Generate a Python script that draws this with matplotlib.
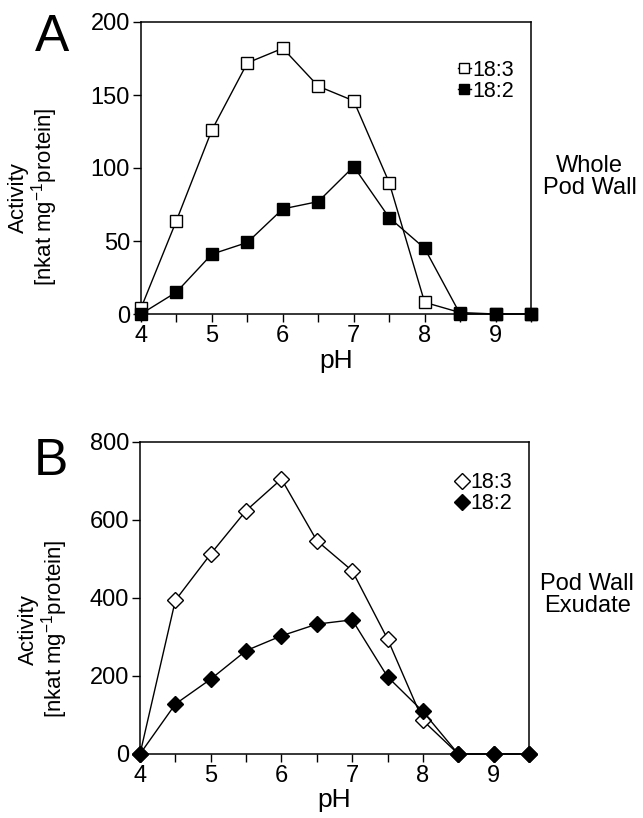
import numpy as np
import matplotlib
matplotlib.use("Agg")
import matplotlib.pyplot as plt

plt.rcParams['font.family'] = ['Liberation Sans', 'DejaVu Sans']
plt.rcParams['mathtext.fontset'] = 'custom'
plt.rcParams['mathtext.rm'] = 'Liberation Sans'
plt.rcParams['mathtext.default'] = 'regular'

# pH values
ph = [4, 4.5, 5, 5.5, 6, 6.5, 7, 7.5, 8, 8.5, 9, 9.5]

# Panel A: whole pod wall
a_183 = [4, 64, 126, 172, 182, 156, 146, 90, 8, 1, 0, 0]
a_182 = [0, 15, 41, 49, 72, 77, 101, 66, 45, 0, 0, 0]

# Panel B: pod wall exudate
b_183 = [0, 394, 513, 624, 705, 547, 470, 295, 86, 0, 0, 0]
b_182 = [0, 128, 192, 265, 303, 333, 344, 198, 109, 0, 0, 0]

fig = plt.figure(figsize=(6.43, 8.18), dpi=100)

def panel(ax, y3, y2, marker, ms, ymax, ystep, letter, side, letter_y, ylab_x, side_y, leg_anchor):
    ax.plot(ph, y3, '-', color='black', lw=1.0, marker=marker, ms=ms,
            mfc='white', mec='black', mew=1.0, label='18:3', zorder=3, clip_on=False)
    ax.plot(ph, y2, '-', color='black', lw=1.0, marker=marker, ms=ms,
            mfc='black', mec='black', mew=1.0, label='18:2', zorder=4, clip_on=False)
    ax.set_xlim(4, 9.5)
    ax.set_ylim(0, ymax)
    ax.set_xticks(np.arange(4, 9.51, 0.5))
    ax.set_xticklabels(['4', '', '5', '', '6', '', '7', '', '8', '', '9', ''])
    ax.set_yticks(np.arange(0, ymax + 1, ystep))
    ax.tick_params(direction='out', length=6, width=1, labelsize=17, pad=2)
    for s in ax.spines.values():
        s.set_linewidth(1.1)
    ax.set_xlabel('pH', fontsize=19, labelpad=1)
    ax.set_ylabel('Activity\n[nkat mg$^{-1}$protein]', fontsize=16, linespacing=1.0)
    ax.yaxis.set_label_coords(ylab_x, 0.40)
    ax.text(-0.272, letter_y, letter, transform=ax.transAxes, fontsize=37, va='top', ha='left')
    ax.text(1.15, side_y, side, transform=ax.transAxes, fontsize=17, ha='center', va='center',
            linespacing=1.0)
    ax.legend(loc='upper right', bbox_to_anchor=leg_anchor, frameon=False, fontsize=15.5,
              handlelength=0.6, handletextpad=0.1, labelspacing=0.0, borderaxespad=0,
              markerscale=0.9)

ax1 = fig.add_axes([141 / 643, 1 - 314 / 818, 390 / 643, 292 / 818])
panel(ax1, a_183, a_182, 's', 8.5, 200, 50, 'A', 'Whole\nPod Wall', 1.03, -0.208, 0.47, (0.98, 0.90))

ax2 = fig.add_axes([140 / 643, 1 - 754 / 818, 389 / 643, 312 / 818])
panel(ax2, b_183, b_182, 'D', 8.5, 800, 200, 'B', 'Pod Wall\nExudate', 1.016, -0.18, 0.51, (0.98, 0.93))

fig.savefig('out.png', dpi=100)
